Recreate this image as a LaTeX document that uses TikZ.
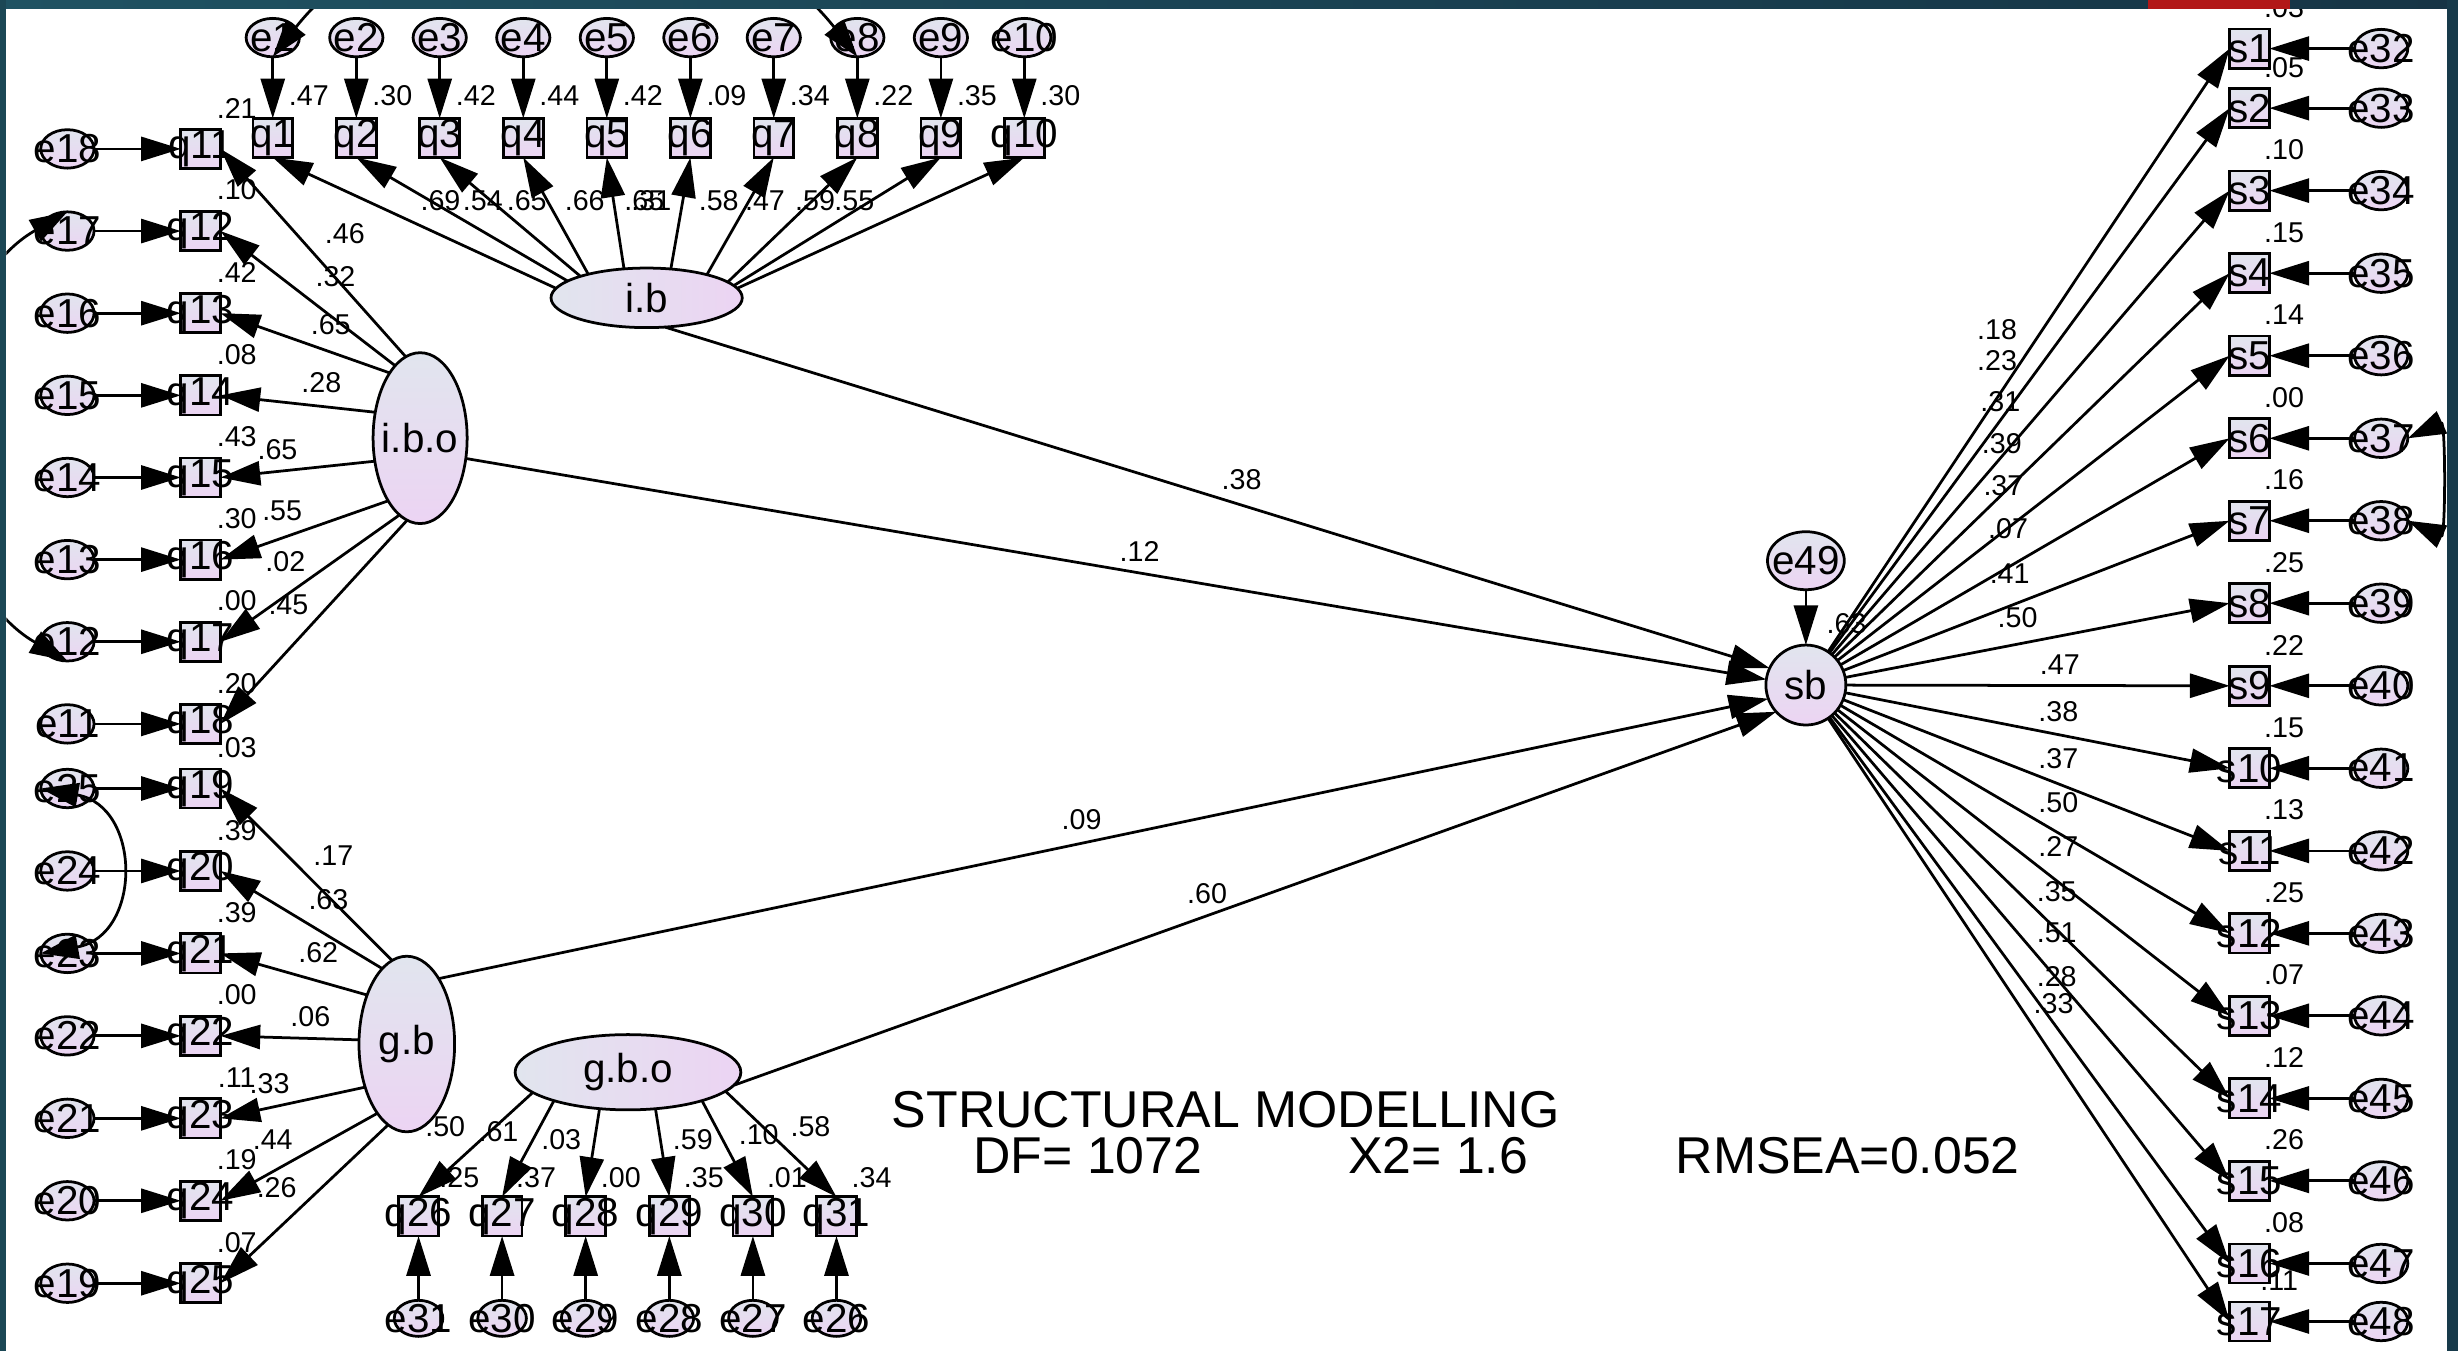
\documentclass[tikz,border=0pt]{standalone}
\usepackage{fontspec}
\setmainfont{Liberation Sans}
\usetikzlibrary{arrows.meta,shapes.geometric}

\definecolor{ntop}{HTML}{E1E5EE}
\definecolor{nbot}{HTML}{ECD4F3}
\definecolor{frameA}{HTML}{1F5262}
\definecolor{frameB}{HTML}{163445}
\definecolor{frameL}{HTML}{1B4755}
\definecolor{frameR}{HTML}{173A4A}
\definecolor{redbar}{HTML}{B21818}

\newcommand\labfont{\fontsize{11pt}{13pt}\selectfont}
\newcommand\numfont{\fontsize{7.8pt}{9pt}\selectfont}
\newcommand\ttlfont{\fontsize{14.1pt}{16pt}\selectfont}

\begin{document}
\begin{tikzpicture}[x=0.15mm, y=0.15mm,
  base/.style={draw=black, line width=0.75pt, inner sep=0pt, outer sep=0pt, top color=ntop, bottom color=nbot},
  txt/.style={font=\labfont, inner sep=0pt, text=black},
  obs/.style={base, rectangle, minimum width=3.8mm, minimum height=3.75mm, label={[txt]center:#1}},
  err/.style={base, ellipse, minimum width=5.1mm, minimum height=3.68mm, label={[txt]center:#1}},
  errb/.style={base, ellipse, minimum width=4.65mm, minimum height=3.45mm, label={[txt]center:#1}},
  lat/.style={base, ellipse, label={[txt]center:#1}},
  hshade/.style={left color=ntop, right color=nbot},
  num/.style={font=\numfont, inner sep=0pt, text=black},
  ttl/.style={font=\ttlfont, inner sep=0pt, anchor=base west},
  arr/.style={line width=0.75pt, -{Triangle[length=3.8mm,width=2.3mm]}},
  cov/.style={line width=0.75pt, {Triangle[length=3.6mm,width=2.3mm]}-{Triangle[length=3.6mm,width=2.3mm]}},
]
\useasboundingbox (0,0) rectangle (1568,-862);
\fill[white] (0,0) rectangle (1568,-862);

\begin{scope}
\clip (4,-5.5) rectangle (1561,-862);

% ---------- indicators and their errors ----------
\foreach \nn/\xx in {1/174,2/227.3,3/280.5,4/333.8,5/387.1,6/440.4,7/493.6,8/546.9,9/600.2,10/653.4}{
  \node[err=e\nn] (e\nn) at (\xx,-24) {};
  \node[obs=q\nn] (q\nn) at (\xx,-88) {};
}
\foreach \ei/\qi/\yy in {18/11/95,17/12/147.4,16/13/199.8,15/14/252.2,14/15/304.6,13/16/357,12/17/409.4,11/18/461.8,
                         25/19/503,24/20/555.6,23/21/608.2,22/22/660.8,21/23/713.4,20/24/766,19/25/818.6}{
  \node[err=e\ei] (e\ei) at (43,-\yy) {};
  \node[obs=q\qi] (q\qi) at (128,-\yy) {};
}
\foreach \qi/\ei/\xx in {26/31/267,27/30/320.3,28/29/373.6,29/28/427,30/27/480.3,31/26/533.6}{
  \node[obs=q\qi] (q\qi) at (\xx,-776) {};
  \node[errb=e\ei] (e\ei) at (\xx,-841) {};
}
\foreach \k/\yy in {1/31,2/69,3/121.6,4/174.3,5/226.9,6/279.6,7/332.2,8/384.8,9/437.5,10/490.1,
                    11/542.8,12/595.4,13/648,14/700.7,15/753.3,16/806,17/843}{
  \pgfmathtruncatemacro{\ek}{31+\k}
  \node[obs=s\k] (s\k) at (1435,-\yy) {};
  \node[err=e\ek] (e\ek) at (1519,-\yy) {};
}

% ---------- latent variables ----------
\node[lat=i.b, hshade, minimum width=18.3mm, minimum height=5.7mm] (ib) at (412.5,-190) {};
\node[lat=i.b.o, minimum width=9mm, minimum height=16.35mm] (ibo) at (268,-279.5) {};
\node[lat=g.b, minimum width=9.15mm, minimum height=16.8mm] (gb) at (259.5,-666) {};
\node[lat=g.b.o, hshade, minimum width=21.6mm, minimum height=7.2mm] (gbo) at (400.6,-684) {};
\node[lat=sb, minimum width=7.65mm, minimum height=7.65mm] (sb) at (1152,-437) {};
\node[lat=e49, minimum width=7.35mm, minimum height=5.55mm] (e49) at (1152,-357.7) {};

% ---------- paths ----------
\foreach \nn/\ang in {1/174,2/168,3/162,4/158,5/128,6/50,7/21,8/11,9/8,10/6}{
  \draw[arr] (e\nn) -- (q\nn);
  \draw[arr] (ib.\ang) -- (q\nn.south);
}
\foreach \ei/\qi/\ang in {18/11/100,17/12/109,16/13/115,15/14/150,14/15/207,13/16/243,12/17/255,11/18/261}{
  \draw[arr] (e\ei) -- (q\qi);
  \draw[arr] (ibo.\ang) -- (q\qi.east);
}
\foreach \ei/\qi/\ang in {25/19/100,24/20/108,23/21/129,22/22/175,21/23/226,20/24/247,19/25/257}{
  \draw[arr] (e\ei) -- (q\qi);
  \draw[arr] (gb.\ang) -- (q\qi.east);
}
\foreach \qi/\ei/\ang in {26/31/192,27/30/201,28/29/232,29/28/307,30/27/339,31/26/349}{
  \draw[arr] (gbo.\ang) -- (q\qi.north);
  \draw[arr] (e\ei) -- (q\qi);
}
\foreach \k in {1,...,17}{
  \pgfmathtruncatemacro{\ek}{31+\k}
  \draw[arr] (sb) -- (s\k.west);
  \draw[arr] (e\ek) -- (s\k);
}
\draw[arr] (ib.302) -- (sb.155);
\draw[arr] (ibo.336) -- (sb.172);
\draw[arr] (gb.64) -- (sb.200);
\draw[arr] (gbo.353) -- (sb.222);
\draw[arr] (e49) -- (sb);

% ---------- error covariances ----------
\draw[cov] (e1.south) to[out=52,in=128] (e8.south);
\draw[cov] (e17.north) to[out=210,in=150] (e12.south);
\draw[cov] (e25.west) to[out=-10,in=10,looseness=1.6] (e23.west);
\draw[cov] (e37.east) to[out=25,in=-25,looseness=1.3] (e38.east);

% ---------- estimates ----------
\foreach \nn/\xx/\rs in {1/197/.47,2/250.3/.30,3/303.5/.42,4/356.8/.44,5/410.1/.42,6/463.4/.09,7/516.6/.34,8/569.9/.22,9/623.2/.35,10/676.4/.30}{
  \node[num] (rq\nn) at (\xx,-61) {\rs};
}
\foreach \nn/\xx/\rs in {1/281/.69,2/308/.54,3/336/.65,4/373/.66,5/411/.65,6/415.5/.31,7/458.5/.58,8/488/.47,9/520/.59,10/545/.55}{
  \node[num] (lq\nn) at (\xx,-128) {\rs};
}
\foreach \nn/\xx/\yy/\rs in {11/220/149/.46,12/214/176.5/.32,13/211/207/.65,14/205/244/.28,15/177/287/.65,16/180/326/.55,17/182/358/.02,18/184/386/.45,
                             19/212.6/546/.17,20/209.5/574/.63,21/203/607.5/.62,22/198/648.6/.06,23/172/691/.33,24/174/727/.44,25/176.5/757.5/.26,
                             26/284/719/.50,27/318/722/.61,28/358/727/.03,29/442/727/.59,30/484/724/.10,31/517/719/.58}{
  \node[num] (lq\nn) at (\xx,-\yy) {\rs};
}
\foreach \nn/\yy/\rs in {11/69/.21,12/121/.10,13/173.8/.42,14/226.2/.08,15/278.6/.43,16/331/.30,17/383.4/.00,18/435.8/.20,
                         19/477/.03,20/529.6/.39,21/582.2/.39,22/634.8/.00,23/687.4/.11,24/740/.19,25/792.6/.07}{
  \node[num] (rq\nn) at (151,-\yy) {\rs};
}
\foreach \nn/\xx/\rs in {26/293/.25,27/342/.37,28/396/.00,29/449/.35,30/502/.01,31/556/.34}{
  \node[num] (rq\nn) at (\xx,-751) {\rs};
}
\foreach \k/\xx/\yy/\rs in {1/1274/210/.18,2/1274/230/.23,3/1276/256/.31,4/1277/283/.39,5/1278/310/.37,6/1281/337/.07,
                            7/1282/366/.41,8/1287/394/.50,9/1314/424/.47,10/1313/454/.38,11/1313/484/.37,12/1313/512/.50,
                            13/1313/540/.27,14/1312/569/.35,15/1312/595/.51,16/1312/623/.28,17/1310/640/.33}{
  \node[num] (ls\k) at (\xx,-\yy) {\rs};
}
\foreach \k/\xx/\yy/\rs in {1/1457/5/.03,2/1457/43/.05,3/1457/95.6/.10,4/1457/148.3/.15,5/1457/200.9/.14,6/1457/253.6/.00,
                            7/1457/306.2/.16,8/1457/358.8/.25,9/1457/411.5/.22,10/1457/464.1/.15,11/1457/516.8/.13,
                            12/1457/569.4/.25,13/1457/622/.07,14/1457/674.7/.12,15/1457/727.3/.26,16/1457/780/.08,17/1454/817/.11}{
  \node[num] (rs\k) at (\xx,-\yy) {\rs};
}
\node[num] (pib) at (792,-306) {.38};
\node[num] (pibo) at (727,-352) {.12};
\node[num] (pgb) at (690,-523) {.09};
\node[num] (pgbo) at (770,-570) {.60};
\node[num] (rsb) at (1178,-398) {.63};

% ---------- fit summary ----------
\node[ttl] (t1) at (568.5,-719.5) {STRUCTURAL MODELLING};
\node[ttl] (t2) at (620.5,-748.5) {DF= 1072};
\node[ttl] (t3) at (859.5,-748.5) {X2= 1.6};
\node[ttl] (t4) at (1068.5,-748.5) {RMSEA=0.052};
\end{scope}

% ---------- window frame ----------
\shade[left color=frameA, right color=frameB] (0,0) rectangle (1568,-5.5);
\fill[frameL] (0,0) rectangle (4,-862);
\fill[frameR] (1561,0) rectangle (1568,-862);
\fill[redbar] (1370,0) rectangle (1461,-5.5);
\end{tikzpicture}
\end{document}
